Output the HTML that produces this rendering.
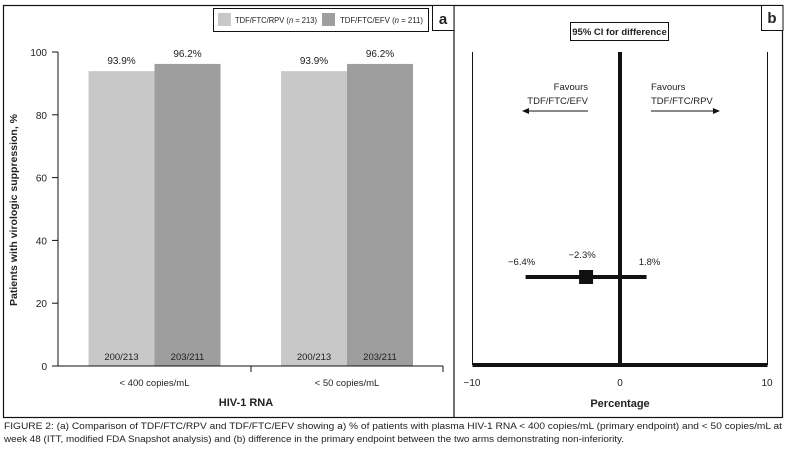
<!DOCTYPE html>
<html><head><meta charset="utf-8"><style>
body{margin:0;background:#fff;font-family:"Liberation Sans",sans-serif}
svg text{font-family:"Liberation Sans",sans-serif;fill:#222}
</style></head><body>
<svg width="785" height="454" viewBox="0 0 785 454">
<rect x="3.5" y="5.5" width="779" height="412" fill="none" stroke="#111" stroke-width="1.2"/>
<line x1="454" y1="5" x2="454" y2="418" stroke="#111" stroke-width="1.2"/>
<rect x="432.5" y="5.5" width="21.5" height="25" fill="#fff" stroke="#111"/>
<text x="443" y="24" font-size="15" font-weight="bold" text-anchor="middle">a</text>
<rect x="761.5" y="5.5" width="21.5" height="25" fill="#fff" stroke="#111"/>
<text x="772" y="23" font-size="15" font-weight="bold" text-anchor="middle">b</text>
<g>
<rect x="213.5" y="8.5" width="215" height="23" fill="#fff" stroke="#111"/>
<rect x="218" y="13" width="13" height="13" fill="#c8c8c8"/>
<text x="235" y="23" font-size="8.5" textLength="82" lengthAdjust="spacingAndGlyphs">TDF/FTC/RPV (<tspan font-style="italic">n</tspan> = 213)</text>
<rect x="322" y="13" width="13" height="13" fill="#9e9e9e"/>
<text x="340" y="23" font-size="8.5" textLength="83" lengthAdjust="spacingAndGlyphs">TDF/FTC/EFV (<tspan font-style="italic">n</tspan> = 211)</text>
</g>
<text transform="translate(17,210) rotate(-90)" font-size="10.5" font-weight="bold" text-anchor="middle">Patients with virologic suppression, %</text>
<g id="chartA"></g>
<text x="246" y="406" font-size="11" font-weight="bold" text-anchor="middle">HIV-1 RNA</text>
<g id="chartB"></g>
<rect x="570.5" y="22.5" width="98" height="18" fill="#fff" stroke="#111"/>
<text x="619.5" y="35" font-size="9.5" font-weight="bold" text-anchor="middle">95% CI for difference</text>
<g>
<text x="588" y="90" font-size="9.5" text-anchor="end">Favours</text>
<text x="588" y="104" font-size="9.5" text-anchor="end">TDF/FTC/EFV</text>
<line x1="528" y1="111" x2="588" y2="111" stroke="#111" stroke-width="1"/>
<polygon points="522,111 529,108 529,114" fill="#111"/>
</g>
<g>
<text x="651" y="90" font-size="9.5">Favours</text>
<text x="651" y="104" font-size="9.5">TDF/FTC/RPV</text>
<line x1="651" y1="111" x2="713" y2="111" stroke="#111" stroke-width="1"/>
<polygon points="720,111 713,108 713,114" fill="#111"/>
</g>
<text x="472" y="386" font-size="10" text-anchor="middle">−10</text>
<text x="620" y="386" font-size="10" text-anchor="middle">0</text>
<text x="767" y="386" font-size="10" text-anchor="middle">10</text>
<text x="620" y="407" font-size="11" font-weight="bold" text-anchor="middle">Percentage</text>
<text x="4" y="429" font-size="8.8" textLength="778" lengthAdjust="spacingAndGlyphs">FIGURE 2: (a) Comparison of TDF/FTC/RPV and TDF/FTC/EFV showing a) % of patients with plasma HIV-1 RNA &lt; 400 copies/mL (primary endpoint) and &lt; 50 copies/mL at</text>
<text x="4" y="442" font-size="8.8" textLength="620" lengthAdjust="spacingAndGlyphs">week 48 (ITT, modified FDA Snapshot analysis) and (b) difference in the primary endpoint between the two arms demonstrating non-inferiority.</text>
</svg>
<script>
const categories=["< 400 copies/mL","< 50 copies/mL"];
const rpvValues=[93.9,93.9];
const efvValues=[96.2,96.2];
const rpvCounts=["200/213","200/213"];
const efvCounts=["203/211","203/211"];
const yTicks=[0,20,40,60,80,100];
const ciLower=[-6.4];
const ciPoint=[-2.3];
const ciUpper=[1.8];
const NS="http://www.w3.org/2000/svg";
function mk(p,t,a){const e=document.createElementNS(NS,t);for(const k in a)e.setAttribute(k,a[k]);p.appendChild(e);return e;}
const gA=document.getElementById('chartA');
const y0=366,y100=52,xL=58,xR=443;
const ys=v=>y0-(y0-y100)*v/100;
const barW=66;
const centers=[154.5,347];
let ax=mk(gA,'line',{x1:58,y1:y100,x2:58,y2:y0,stroke:'#111'});


yTicks.forEach(t=>{
 const l=mk(gA,'line',{x1:52,x2:58,y1:ys(t),y2:ys(t),stroke:'#111'});
 
 
 const tx=mk(gA,'text',{x:47,y:ys(t)+4,'font-size':10,'text-anchor':'end'});tx.textContent=t;
 
 
});
categories.forEach((c,i)=>{
 const cx=centers[i];
 [[rpvValues[i],'#c8c8c8',cx-barW,rpvCounts[i]],[efvValues[i],'#9e9e9e',cx,efvCounts[i]]].forEach((b,j)=>{
  const r=mk(gA,'rect',{x:b[2],y:ys(b[0]),width:barW,height:y0-ys(b[0]),fill:b[1]});
  
  
  const v=mk(gA,'text',{x:b[2]+barW/2,y:ys(b[0])-7,'font-size':10,'text-anchor':'middle'});v.textContent=b[0].toFixed(1)+'%';
  
  
  const n=mk(gA,'text',{x:b[2]+barW/2,y:y0-6,'font-size':9.5,'text-anchor':'middle'});n.textContent=b[3];
  
  
 });
 const cl=mk(gA,'text',{x:cx,y:386,'font-size':9.5,'text-anchor':'middle'});cl.textContent=c;
 
 
});
const xa=mk(gA,'line',{x1:xL,x2:xR,y1:y0,y2:y0,stroke:'#111'});


[251,xR].forEach(x=>{const t=mk(gA,'line',{x1:x,x2:x,y1:y0,y2:y0+6,stroke:'#111'});
 
 });
const gB=document.getElementById('chartB');
const xs=v=>620+v*14.75;
const by=365;
[-10,10].forEach(v=>{const l=mk(gB,'line',{x1:xs(v),x2:xs(v),y1:52,y2:by,stroke:'#111','stroke-width':1});
 
 });
const vz=mk(gB,'line',{x1:xs(0),x2:xs(0),y1:52,y2:by+2,stroke:'#111','stroke-width':4});


const hb=mk(gB,'line',{x1:xs(-10),x2:xs(10),y1:by,y2:by,stroke:'#111','stroke-width':4});


const cy=277;
ciLower.forEach((lo,i)=>{
 const l=mk(gB,'line',{x1:xs(lo),x2:xs(ciUpper[i]),y1:cy,y2:cy,stroke:'#111','stroke-width':4});
 
 
 const s=mk(gB,'rect',{x:xs(ciPoint[i])-7,y:cy-7,width:14,height:14,fill:'#111'});
 
 
 [[lo,265],[ciPoint[i],258],[ciUpper[i],265]].forEach((d,k)=>{
  const t=mk(gB,'text',{x:xs(d[0])+(k===2?3:-4),y:d[1],'font-size':9.5,'text-anchor':'middle'});
  t.textContent=(d[0]<0?'−':'')+Math.abs(d[0]).toFixed(1)+'%';
  
  
 });
});
</script>
</body></html>
